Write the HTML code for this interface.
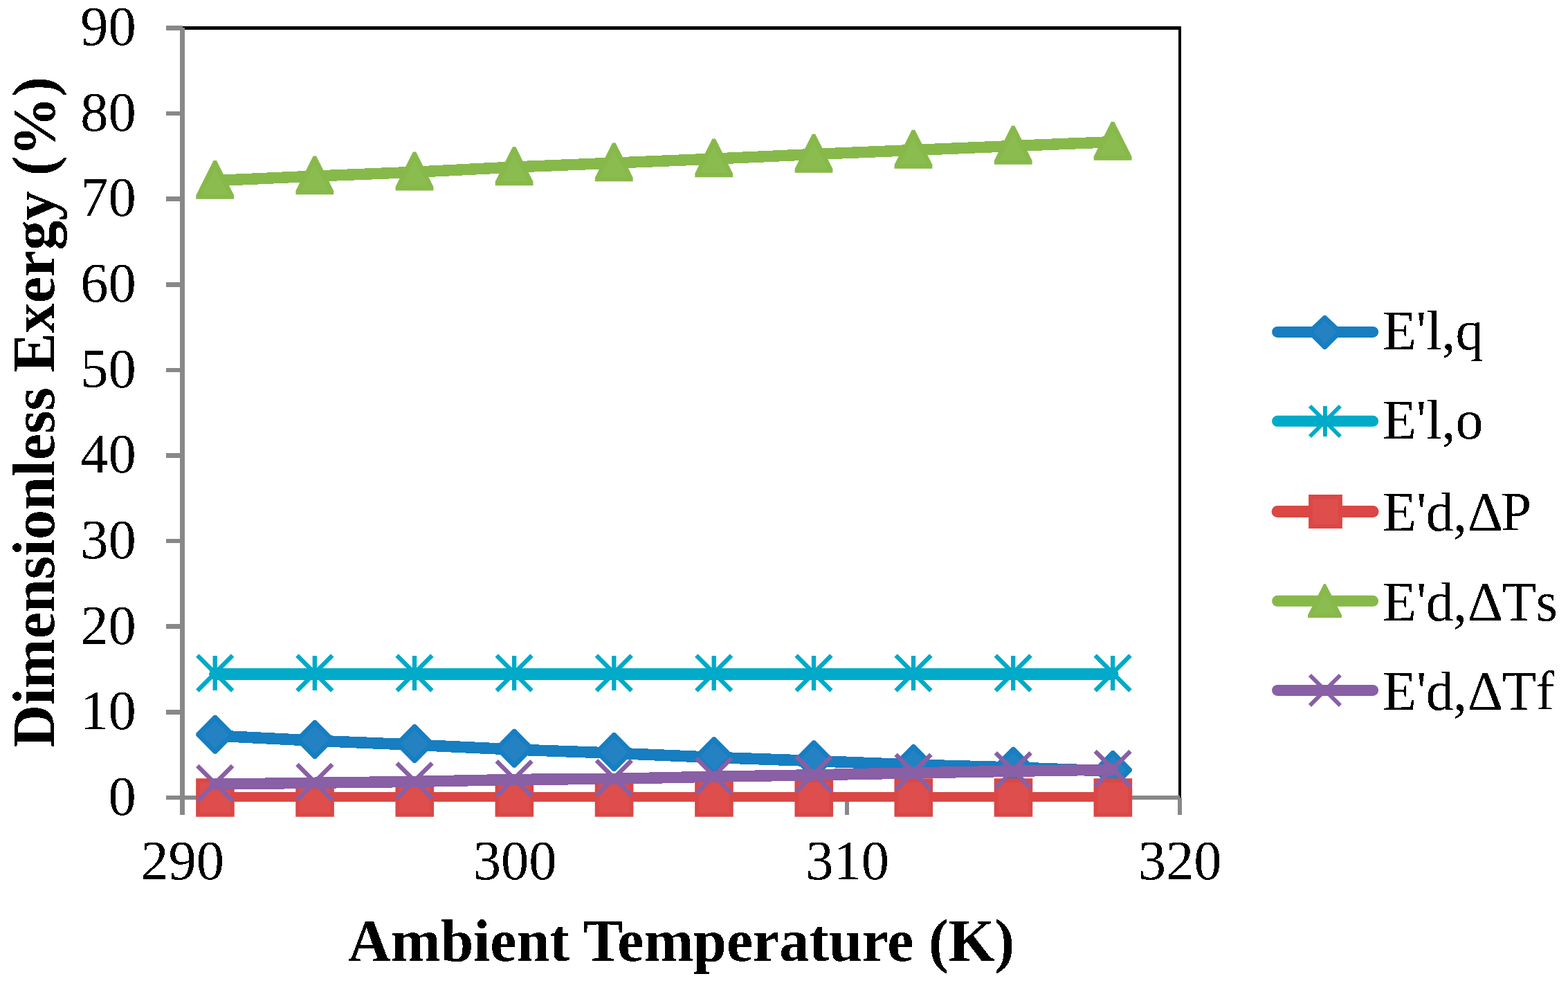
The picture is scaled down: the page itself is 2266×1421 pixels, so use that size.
<!DOCTYPE html>
<html lang="en">
<head>
<meta charset="utf-8">
<title>Dimensionless Exergy vs Ambient Temperature</title>
<style>
html,body{margin:0;padding:0;background:#ffffff;}
body{width:2266px;height:1421px;overflow:hidden;}
svg{display:block;}
text{font-family:"Liberation Serif","Times New Roman",Times,serif;fill:#000000;}
.tick{font-size:80.5px;}
.title{font-size:86px;font-weight:bold;}
.leg{font-size:80px;}
</style>
</head>
<body>
<svg width="2266" height="1421" viewBox="0 0 2266 1421">
<rect x="0" y="0" width="2266" height="1421" fill="#ffffff"/>
<filter id="crisp" x="-2%" y="-10%" width="104%" height="120%" color-interpolation-filters="sRGB">
<feComponentTransfer><feFuncA type="discrete" tableValues="0 1"/></feComponentTransfer>
</filter>

<g id="plot-border" fill="none" stroke="#000000" stroke-width="5" shape-rendering="crispEdges">
<path d="M263.9 40.5H1707.0"/>
</g>
<rect x="1703" y="38" width="4" height="1115" fill="#000000" shape-rendering="crispEdges"/>
<g id="axes" fill="#888888" shape-rendering="crispEdges">
<rect x="260" y="40.2" width="7" height="1137.6"/>
<rect x="240" y="1150" width="1464.7" height="6"/>
<rect x="240" y="1149.70" width="23.9" height="6.6"/>
<rect x="240" y="1026.08" width="23.9" height="6.6"/>
<rect x="240" y="902.46" width="23.9" height="6.6"/>
<rect x="240" y="778.83" width="23.9" height="6.6"/>
<rect x="240" y="655.21" width="23.9" height="6.6"/>
<rect x="240" y="531.59" width="23.9" height="6.6"/>
<rect x="240" y="407.97" width="23.9" height="6.6"/>
<rect x="240" y="284.34" width="23.9" height="6.6"/>
<rect x="240" y="160.72" width="23.9" height="6.6"/>
<rect x="240" y="37.10" width="23.9" height="6.6"/>
<rect x="260.50" y="1153" width="6" height="25"/>
<rect x="741.00" y="1153" width="6" height="25"/>
<rect x="1221.00" y="1153" width="6" height="25"/>
<rect x="1702.00" y="1153" width="6" height="25"/>
</g>
<g id="series-blue">
<polyline points="310.70,1063.50 454.80,1070.70 599.00,1076.70 743.10,1083.50 887.30,1088.70 1031.70,1094.90 1176.00,1100.00 1320.00,1105.60 1464.20,1109.50 1608.10,1114.70" fill="none" stroke="#167EC1" stroke-width="16.6" stroke-linecap="round" stroke-linejoin="round" shape-rendering="crispEdges"/>
<polygon points="309.15,1033.80 312.55,1033.80 338.45,1060.10 338.45,1063.50 312.55,1089.80 309.15,1089.80 283.25,1063.50 283.25,1060.10" fill="#167EC1"/><polygon points="310.85,1041.80 330.95,1061.90 310.85,1082.00 290.75,1061.90" fill="#2482C3"/>
<polygon points="453.25,1041.00 456.65,1041.00 482.55,1067.30 482.55,1070.70 456.65,1097.00 453.25,1097.00 427.35,1070.70 427.35,1067.30" fill="#167EC1"/><polygon points="454.95,1049.00 475.05,1069.10 454.95,1089.20 434.85,1069.10" fill="#2482C3"/>
<polygon points="597.45,1047.00 600.85,1047.00 626.75,1073.30 626.75,1076.70 600.85,1103.00 597.45,1103.00 571.55,1076.70 571.55,1073.30" fill="#167EC1"/><polygon points="599.15,1055.00 619.25,1075.10 599.15,1095.20 579.05,1075.10" fill="#2482C3"/>
<polygon points="741.55,1053.80 744.95,1053.80 770.85,1080.10 770.85,1083.50 744.95,1109.80 741.55,1109.80 715.65,1083.50 715.65,1080.10" fill="#167EC1"/><polygon points="743.25,1061.80 763.35,1081.90 743.25,1102.00 723.15,1081.90" fill="#2482C3"/>
<polygon points="885.75,1059.00 889.15,1059.00 915.05,1085.30 915.05,1088.70 889.15,1115.00 885.75,1115.00 859.85,1088.70 859.85,1085.30" fill="#167EC1"/><polygon points="887.45,1067.00 907.55,1087.10 887.45,1107.20 867.35,1087.10" fill="#2482C3"/>
<polygon points="1030.15,1065.20 1033.55,1065.20 1059.45,1091.50 1059.45,1094.90 1033.55,1121.20 1030.15,1121.20 1004.25,1094.90 1004.25,1091.50" fill="#167EC1"/><polygon points="1031.85,1073.20 1051.95,1093.30 1031.85,1113.40 1011.75,1093.30" fill="#2482C3"/>
<polygon points="1174.45,1070.30 1177.85,1070.30 1203.75,1096.60 1203.75,1100.00 1177.85,1126.30 1174.45,1126.30 1148.55,1100.00 1148.55,1096.60" fill="#167EC1"/><polygon points="1176.15,1078.30 1196.25,1098.40 1176.15,1118.50 1156.05,1098.40" fill="#2482C3"/>
<polygon points="1318.45,1075.90 1321.85,1075.90 1347.75,1102.20 1347.75,1105.60 1321.85,1131.90 1318.45,1131.90 1292.55,1105.60 1292.55,1102.20" fill="#167EC1"/><polygon points="1320.15,1083.90 1340.25,1104.00 1320.15,1124.10 1300.05,1104.00" fill="#2482C3"/>
<polygon points="1462.65,1079.80 1466.05,1079.80 1491.95,1106.10 1491.95,1109.50 1466.05,1135.80 1462.65,1135.80 1436.75,1109.50 1436.75,1106.10" fill="#167EC1"/><polygon points="1464.35,1087.80 1484.45,1107.90 1464.35,1128.00 1444.25,1107.90" fill="#2482C3"/>
<polygon points="1606.55,1085.00 1609.95,1085.00 1635.85,1111.30 1635.85,1114.70 1609.95,1141.00 1606.55,1141.00 1580.65,1114.70 1580.65,1111.30" fill="#167EC1"/><polygon points="1608.25,1093.00 1628.35,1113.10 1608.25,1133.20 1588.15,1113.10" fill="#2482C3"/>
</g>
<g id="series-cyan">
<polyline points="310.70,974.50 454.80,974.50 599.00,974.50 743.10,974.50 887.30,974.50 1031.70,974.50 1176.00,974.50 1320.00,974.50 1464.20,974.50 1608.10,974.50" fill="none" stroke="#00AAC8" stroke-width="17" stroke-linecap="round" stroke-linejoin="round" shape-rendering="crispEdges"/>
<path d="M285.30 947.60L336.10 998.40M285.30 998.40L336.10 947.60M310.70 948.00L310.70 998.00" fill="none" stroke="#00AAC8" stroke-width="6.3"/>
<path d="M429.40 947.60L480.20 998.40M429.40 998.40L480.20 947.60M454.80 948.00L454.80 998.00" fill="none" stroke="#00AAC8" stroke-width="6.3"/>
<path d="M573.60 947.60L624.40 998.40M573.60 998.40L624.40 947.60M599.00 948.00L599.00 998.00" fill="none" stroke="#00AAC8" stroke-width="6.3"/>
<path d="M717.70 947.60L768.50 998.40M717.70 998.40L768.50 947.60M743.10 948.00L743.10 998.00" fill="none" stroke="#00AAC8" stroke-width="6.3"/>
<path d="M861.90 947.60L912.70 998.40M861.90 998.40L912.70 947.60M887.30 948.00L887.30 998.00" fill="none" stroke="#00AAC8" stroke-width="6.3"/>
<path d="M1006.30 947.60L1057.10 998.40M1006.30 998.40L1057.10 947.60M1031.70 948.00L1031.70 998.00" fill="none" stroke="#00AAC8" stroke-width="6.3"/>
<path d="M1150.60 947.60L1201.40 998.40M1150.60 998.40L1201.40 947.60M1176.00 948.00L1176.00 998.00" fill="none" stroke="#00AAC8" stroke-width="6.3"/>
<path d="M1294.60 947.60L1345.40 998.40M1294.60 998.40L1345.40 947.60M1320.00 948.00L1320.00 998.00" fill="none" stroke="#00AAC8" stroke-width="6.3"/>
<path d="M1438.80 947.60L1489.60 998.40M1438.80 998.40L1489.60 947.60M1464.20 948.00L1464.20 998.00" fill="none" stroke="#00AAC8" stroke-width="6.3"/>
<path d="M1582.70 947.60L1633.50 998.40M1582.70 998.40L1633.50 947.60M1608.10 948.00L1608.10 998.00" fill="none" stroke="#00AAC8" stroke-width="6.3"/>
</g>
<g id="series-red">
<polyline points="310.70,1152.00 454.80,1152.00 599.00,1152.00 743.10,1152.00 887.30,1152.00 1031.70,1152.00 1176.00,1152.00 1320.00,1152.00 1464.20,1152.00 1608.10,1152.00" fill="none" stroke="#DB4745" stroke-width="14" stroke-linecap="round" stroke-linejoin="round" shape-rendering="crispEdges"/>
<polygon points="283.15,1125.20 338.75,1125.20 338.75,1180.80 283.15,1180.80" fill="#DB4745"/><polygon points="288.90,1130.95 333.00,1130.95 333.00,1175.05 288.90,1175.05" fill="#DD4E4C"/>
<polygon points="427.25,1125.20 482.85,1125.20 482.85,1180.80 427.25,1180.80" fill="#DB4745"/><polygon points="433.00,1130.95 477.10,1130.95 477.10,1175.05 433.00,1175.05" fill="#DD4E4C"/>
<polygon points="571.45,1125.20 627.05,1125.20 627.05,1180.80 571.45,1180.80" fill="#DB4745"/><polygon points="577.20,1130.95 621.30,1130.95 621.30,1175.05 577.20,1175.05" fill="#DD4E4C"/>
<polygon points="715.55,1125.20 771.15,1125.20 771.15,1180.80 715.55,1180.80" fill="#DB4745"/><polygon points="721.30,1130.95 765.40,1130.95 765.40,1175.05 721.30,1175.05" fill="#DD4E4C"/>
<polygon points="859.75,1125.20 915.35,1125.20 915.35,1180.80 859.75,1180.80" fill="#DB4745"/><polygon points="865.50,1130.95 909.60,1130.95 909.60,1175.05 865.50,1175.05" fill="#DD4E4C"/>
<polygon points="1004.15,1125.20 1059.75,1125.20 1059.75,1180.80 1004.15,1180.80" fill="#DB4745"/><polygon points="1009.90,1130.95 1054.00,1130.95 1054.00,1175.05 1009.90,1175.05" fill="#DD4E4C"/>
<polygon points="1148.45,1125.20 1204.05,1125.20 1204.05,1180.80 1148.45,1180.80" fill="#DB4745"/><polygon points="1154.20,1130.95 1198.30,1130.95 1198.30,1175.05 1154.20,1175.05" fill="#DD4E4C"/>
<polygon points="1292.45,1125.20 1348.05,1125.20 1348.05,1180.80 1292.45,1180.80" fill="#DB4745"/><polygon points="1298.20,1130.95 1342.30,1130.95 1342.30,1175.05 1298.20,1175.05" fill="#DD4E4C"/>
<polygon points="1436.65,1125.20 1492.25,1125.20 1492.25,1180.80 1436.65,1180.80" fill="#DB4745"/><polygon points="1442.40,1130.95 1486.50,1130.95 1486.50,1175.05 1442.40,1175.05" fill="#DD4E4C"/>
<polygon points="1580.55,1125.20 1636.15,1125.20 1636.15,1180.80 1580.55,1180.80" fill="#DB4745"/><polygon points="1586.30,1130.95 1630.40,1130.95 1630.40,1175.05 1586.30,1175.05" fill="#DD4E4C"/>
</g>
<g id="series-green">
<polyline points="310.70,261.10 454.80,254.60 599.00,248.80 743.10,241.50 887.30,235.60 1031.70,229.60 1176.00,223.00 1320.00,217.00 1464.20,211.00 1608.10,205.10" fill="none" stroke="#87B94A" stroke-width="16.4" stroke-linecap="round" stroke-linejoin="round" shape-rendering="crispEdges"/>
<polygon points="308.50,231.90 312.90,231.90 338.10,282.20 338.10,287.80 283.30,287.80 283.30,282.20" fill="#87B94A"/><polygon points="310.70,243.10 330.80,281.50 290.60,281.50" fill="#8BBC4F"/>
<polygon points="452.60,225.40 457.00,225.40 482.20,275.70 482.20,281.30 427.40,281.30 427.40,275.70" fill="#87B94A"/><polygon points="454.80,236.60 474.90,275.00 434.70,275.00" fill="#8BBC4F"/>
<polygon points="596.80,219.60 601.20,219.60 626.40,269.90 626.40,275.50 571.60,275.50 571.60,269.90" fill="#87B94A"/><polygon points="599.00,230.80 619.10,269.20 578.90,269.20" fill="#8BBC4F"/>
<polygon points="740.90,212.30 745.30,212.30 770.50,262.60 770.50,268.20 715.70,268.20 715.70,262.60" fill="#87B94A"/><polygon points="743.10,223.50 763.20,261.90 723.00,261.90" fill="#8BBC4F"/>
<polygon points="885.10,206.40 889.50,206.40 914.70,256.70 914.70,262.30 859.90,262.30 859.90,256.70" fill="#87B94A"/><polygon points="887.30,217.60 907.40,256.00 867.20,256.00" fill="#8BBC4F"/>
<polygon points="1029.50,200.40 1033.90,200.40 1059.10,250.70 1059.10,256.30 1004.30,256.30 1004.30,250.70" fill="#87B94A"/><polygon points="1031.70,211.60 1051.80,250.00 1011.60,250.00" fill="#8BBC4F"/>
<polygon points="1173.80,193.80 1178.20,193.80 1203.40,244.10 1203.40,249.70 1148.60,249.70 1148.60,244.10" fill="#87B94A"/><polygon points="1176.00,205.00 1196.10,243.40 1155.90,243.40" fill="#8BBC4F"/>
<polygon points="1317.80,187.80 1322.20,187.80 1347.40,238.10 1347.40,243.70 1292.60,243.70 1292.60,238.10" fill="#87B94A"/><polygon points="1320.00,199.00 1340.10,237.40 1299.90,237.40" fill="#8BBC4F"/>
<polygon points="1462.00,181.80 1466.40,181.80 1491.60,232.10 1491.60,237.70 1436.80,237.70 1436.80,232.10" fill="#87B94A"/><polygon points="1464.20,193.00 1484.30,231.40 1444.10,231.40" fill="#8BBC4F"/>
<polygon points="1605.90,175.90 1610.30,175.90 1635.50,226.20 1635.50,231.80 1580.70,231.80 1580.70,226.20" fill="#87B94A"/><polygon points="1608.10,187.10 1628.20,225.50 1588.00,225.50" fill="#8BBC4F"/>
</g>
<g id="series-purple">
<polyline points="310.70,1133.70 454.80,1131.70 599.00,1129.90 743.10,1126.90 887.30,1125.80 1031.70,1122.70 1176.00,1120.30 1320.00,1117.40 1464.20,1114.80 1608.10,1112.50" fill="none" stroke="#895FA5" stroke-width="16.4" stroke-linecap="round" stroke-linejoin="round" shape-rendering="crispEdges"/>
<path d="M285.30 1107.10L336.10 1157.90M285.30 1157.90L336.10 1107.10" fill="none" stroke="#895FA5" stroke-width="6.3"/>
<path d="M429.40 1105.10L480.20 1155.90M429.40 1155.90L480.20 1105.10" fill="none" stroke="#895FA5" stroke-width="6.3"/>
<path d="M573.60 1103.30L624.40 1154.10M573.60 1154.10L624.40 1103.30" fill="none" stroke="#895FA5" stroke-width="6.3"/>
<path d="M717.70 1100.30L768.50 1151.10M717.70 1151.10L768.50 1100.30" fill="none" stroke="#895FA5" stroke-width="6.3"/>
<path d="M861.90 1099.20L912.70 1150.00M861.90 1150.00L912.70 1099.20" fill="none" stroke="#895FA5" stroke-width="6.3"/>
<path d="M1006.30 1096.10L1057.10 1146.90M1006.30 1146.90L1057.10 1096.10" fill="none" stroke="#895FA5" stroke-width="6.3"/>
<path d="M1150.60 1093.70L1201.40 1144.50M1150.60 1144.50L1201.40 1093.70" fill="none" stroke="#895FA5" stroke-width="6.3"/>
<path d="M1294.60 1090.80L1345.40 1141.60M1294.60 1141.60L1345.40 1090.80" fill="none" stroke="#895FA5" stroke-width="6.3"/>
<path d="M1438.80 1088.20L1489.60 1139.00M1438.80 1139.00L1489.60 1088.20" fill="none" stroke="#895FA5" stroke-width="6.3"/>
<path d="M1582.70 1085.90L1633.50 1136.70M1582.70 1136.70L1633.50 1085.90" fill="none" stroke="#895FA5" stroke-width="6.3"/>
</g>
<g id="y-tick-labels" class="tick" text-anchor="end" filter="url(#crisp)">
<text x="196.8" y="1178.00">0</text>
<text x="196.8" y="1054.33">10</text>
<text x="196.8" y="930.67">20</text>
<text x="196.8" y="807.00">30</text>
<text x="196.8" y="683.33">40</text>
<text x="196.8" y="559.67">50</text>
<text x="196.8" y="436.00">60</text>
<text x="196.8" y="312.33">70</text>
<text x="196.8" y="188.67">80</text>
<text x="196.8" y="65.00">90</text>
</g>
<g id="x-tick-labels" class="tick" text-anchor="middle" filter="url(#crisp)">
<text x="263.50" y="1271">290</text>
<text x="744.00" y="1271">300</text>
<text x="1224.50" y="1271">310</text>
<text x="1705.00" y="1271">320</text>
</g>
<g id="axis-titles" filter="url(#crisp)">
<text id="x-title" class="title" text-anchor="middle" x="984.5" y="1388.5">Ambient Temperature (K)</text>
<text id="y-title" class="title" text-anchor="middle" transform="translate(78,596) rotate(-90)">Dimensionless Exergy (%)</text>
</g>
<g id="legend">
<line x1="1846.1" y1="479.95" x2="1984.1" y2="479.95" stroke="#167EC1" stroke-width="16" stroke-linecap="round"/>
<polygon points="1912.90,456.10 1916.10,456.10 1939.70,478.35 1939.70,481.55 1916.10,505.05 1912.90,505.05 1889.30,481.55 1889.30,478.35" fill="#167EC1"/><polygon points="1914.50,463.10 1931.30,479.90 1914.50,496.70 1897.70,479.90" fill="#2482C3"/>
<line x1="1846.1" y1="608.85" x2="1984.1" y2="608.85" stroke="#00AAC8" stroke-width="16" stroke-linecap="round"/>
<path d="M1893.00 587.05L1936.90 630.95M1893.00 630.95L1936.90 587.05M1914.95 587.00L1914.95 631.00" fill="none" stroke="#00AAC8" stroke-width="5.85"/>
<line x1="1846.1" y1="739.45" x2="1984.1" y2="739.45" stroke="#DB4745" stroke-width="17" stroke-linecap="round"/>
<polygon points="1891.10,715.10 1939.90,715.10 1939.90,763.90 1891.10,763.90" fill="#DB4745"/><polygon points="1897.05,721.05 1933.95,721.05 1933.95,757.95 1897.05,757.95" fill="#DD4E4C"/>
<line x1="1846.1" y1="868.85" x2="1984.1" y2="868.85" stroke="#87B94A" stroke-width="16" stroke-linecap="round"/>
<polygon points="1913.20,843.95 1915.80,843.95 1939.00,888.95 1939.00,892.95 1890.00,892.95 1890.00,888.95" fill="#87B94A"/><polygon points="1914.50,856.50 1930.55,886.90 1898.45,886.90" fill="#8BBC4F"/>
<line x1="1846.1" y1="997.95" x2="1984.1" y2="997.95" stroke="#895FA5" stroke-width="16" stroke-linecap="round"/>
<path d="M1892.98 975.95L1936.88 1019.85M1892.98 1019.85L1936.88 975.95" fill="none" stroke="#895FA5" stroke-width="5.85"/>
</g>
<g id="legend-labels" class="leg" filter="url(#crisp)">
<text x="1998" y="505.1">E'l,q</text>
<text x="1998" y="633.8">E'l,o</text>
<text x="1998" y="766.7" dx="0 0 -0.6 -0.6 0.6 -3.3">E'd,ΔP</text>
<text x="1998" y="896.8" dx="0 0 -0.6 -0.6 0.6 -1.2 5.5">E'd,ΔTs</text>
<text x="1998" y="1025.7" dx="0 0 -0.6 -0.6 0.6 -1.2 0">E'd,ΔTf</text>
</g>
</svg>
</body>
</html>
